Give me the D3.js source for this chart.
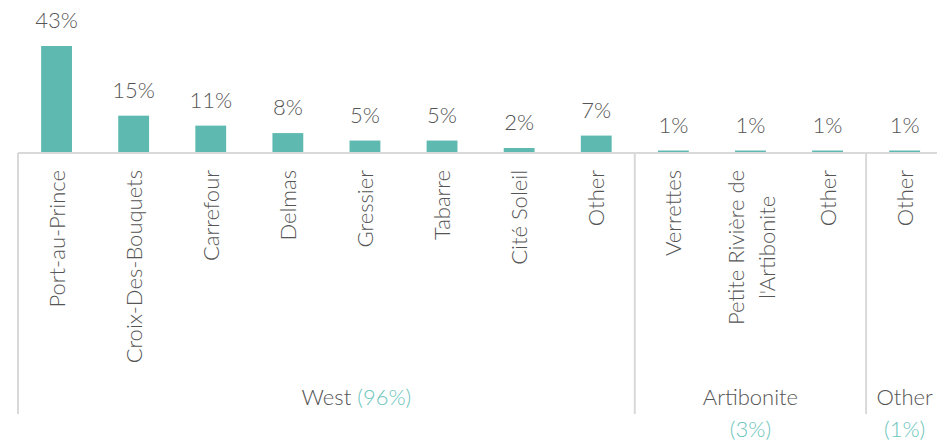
<!DOCTYPE html>
<meta charset="utf-8">
<script src="https://d3js.org/d3.v7.min.js"></script>
<style>
    body { margin: 0; background: #fff; }
    text { font-family: Lato, sans-serif; font-weight: 300; fill: #555; }
</style>
<div id="chart"></div>
<script>
    // chart data
    var categories = ["Port-au-Prince", "Croix-Des-Bouquets", "Carrefour", "Delmas", "Gressier", "Tabarre",
        "Cité Soleil", "Other", "Verrettes", "Petite Rivière de\nl'Artibonite", "Other", "Other"];
    var values = [43, 15, 11, 8, 5, 5, 2, 7, 1, 1, 1, 1];
    var groupNames = ["West", "Artibonite", "Other"];
    var groupShares = ["(96%)", "(3%)", "(1%)"];
    var groupSizes = [8, 3, 1];

    const W = 937, H = 442
    const left = 18, step = 77.1
    const base = 153, bottomLine = 414
    const barColor = '#5eb9b1', lineColor = '#d9d9d9', pctColor = '#6cc5bc'
    const fs = 22

    const svg = d3.select("#chart").append("svg")
        .attr("width", W).attr("height", H)

    const idx = categories.map((d, i) => i)
    const x = d3.scaleBand()
        .domain(idx)
        .range([left, left + step * categories.length])
        .paddingInner(0.6)
        .paddingOuter(0.3)

    const y = d3.scaleLinear().domain([0, 43]).range([base, 46])

    // bars
    svg.selectAll("rect.bar")
        .data(values)
        .enter()
        .append("rect")
        .attr("class", "bar")
        .attr("x", (d, i) => x(i))
        .attr("width", x.bandwidth())
        .attr("y", d => y(d))
        .attr("height", d => base - y(d))
        .attr("fill", barColor)

    // value labels
    svg.selectAll("text.val")
        .data(values)
        .enter()
        .append("text")
        .attr("class", "val")
        .attr("x", (d, i) => x(i) + x.bandwidth() / 2)
        .attr("y", d => y(d) - 18)
        .attr("text-anchor", "middle")
        .style("font-size", fs + "px")
        .text(d => d + "%")

    // baseline
    svg.append("line")
        .attr("x1", left).attr("x2", W)
        .attr("y1", base).attr("y2", base)
        .attr("stroke", lineColor).attr("stroke-width", 2)

    // group dividers
    let start = 0
    const bounds = groupSizes.map(n => { const b = { s: start, e: start + n }; start += n; return b })
    bounds.forEach(b => {
        const gx = left + step * b.s
        svg.append("line")
            .attr("x1", gx).attr("x2", gx)
            .attr("y1", base).attr("y2", bottomLine)
            .attr("stroke", lineColor).attr("stroke-width", 2)
    })

    // category labels, rotated, top aligned
    const labelTop = 170
    categories.forEach((c, i) => {
        const cx = x(i) + x.bandwidth() / 2
        const lines = c.split("\n")
        const g = svg.append("g")
        const texts = lines.map(l => g.append("text")
            .style("font-size", fs + "px")
            .attr("text-anchor", "middle")
            .text(l))
        const maxLen = d3.max(texts, t => t.node().getComputedTextLength())
        const mid = labelTop + maxLen / 2
        const lh = 31
        texts.forEach((t, k) => {
            const bx = cx + 8 + (k - (lines.length - 1) / 2) * lh + (lines.length > 1 ? 1 : 0)
            t.attr("transform", `translate(${bx},${mid}) rotate(-90)`)
        })
    })

    // group labels
    bounds.forEach((b, gi) => {
        const gc = left + step * (b.s + b.e) / 2
        if (gi === 0) {
            const t = svg.append("text")
                .attr("x", gc).attr("y", 405)
                .attr("text-anchor", "middle")
                .style("font-size", fs + "px")
                .text(groupNames[gi])
            const w = t.node().getComputedTextLength()
            svg.append("text")
                .attr("x", gc + w / 2 + 6).attr("y", 405)
                .style("font-size", fs + "px")
                .style("fill", pctColor)
                .text(groupShares[gi])
        } else {
            svg.append("text")
                .attr("x", gc).attr("y", 405)
                .attr("text-anchor", "middle")
                .style("font-size", fs + "px")
                .text(groupNames[gi])
            svg.append("text")
                .attr("x", gc).attr("y", 437)
                .attr("text-anchor", "middle")
                .style("font-size", fs + "px")
                .style("fill", pctColor)
                .text(groupShares[gi])
        }
    })
</script>
